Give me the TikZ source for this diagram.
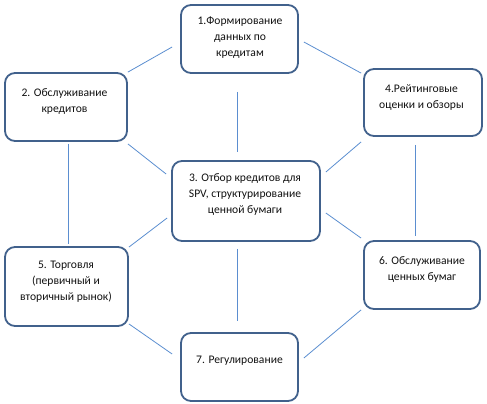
\documentclass[tikz,border=0pt]{standalone}
\usepackage{fontspec}
\setmainfont{Carlito}
\definecolor{boxc}{HTML}{41618C}
\definecolor{linec}{HTML}{5B8ED0}
\definecolor{txtc}{HTML}{111111}
\begin{document}
\begin{tikzpicture}[x=1pt,y=-1pt,
  box/.style={draw=boxc, line width=1.8pt, rounded corners=10pt, inner sep=0pt},
  txt/.style={align=center, text=txtc, font=\fontsize{11.6}{16}\selectfont, inner sep=0pt},
  conn/.style={draw=linec, line width=0.8pt}]
\useasboundingbox (0,0) rectangle (487,404);
% boxes
\node[box, minimum width=117pt, minimum height=68pt] (b1) at (239.5,39) {};
\node[box, minimum width=122pt, minimum height=68pt] (b2) at (66,107) {};
\node[box, minimum width=118pt, minimum height=67pt] (b4) at (423,102.5) {};
\node[box, minimum width=148pt, minimum height=80pt] (b3) at (246,201) {};
\node[box, minimum width=123pt, minimum height=79pt] (b5) at (66.5,286.5) {};
\node[box, minimum width=116pt, minimum height=68pt] (b6) at (422,275) {};
\node[box, minimum width=117pt, minimum height=68pt] (b7) at (239.5,367) {};
% texts
\node[txt] (t1) at (240,38) {1.Формирование\\данных по\\кредитам};
\node[txt] (t2) at (64.5,101.5) {2. Обслуживание\\кредитов};
\node[txt] (t4) at (421.5,97.5) {4.Рейтинговые\\оценки и обзоры};
\node[txt] (t3) at (245,195) {3. Отбор кредитов для\\SPV, структурирование\\ценной бумаги};
\node[txt] (t5) at (66,282) {5. Торговля\\(первичный и\\вторичный рынок)};
\node[txt] (t6) at (422,270) {6. Обслуживание\\ценных бумаг};
\node[txt] (t7) at (239.5,361) {7. Регулирование};
% connectors
\draw[conn] (b2.north east) -- ([shift={(-8,8)}]b1.west);
\draw[conn] ([shift={(5,3)}]b1.east) -- ([shift={(-2,5)}]b4.north west);
\draw[conn] ([shift={(-2.5,18)}]b1.south) -- ([shift={(-9,-8)}]b3.north);
\draw[conn] ([shift={(0,2)}]b2.south east) -- ([shift={(-5,-27)}]b3.west);
\draw[conn] ([shift={(2,2)}]b2.south) -- ([shift={(1.5,-2)}]b5.north);
\draw[conn] ([shift={(-2,5)}]b4.south west) -- ([shift={(5,-29)}]b3.east);
\draw[conn] ([shift={(-8,8)}]b4.south) -- ([shift={(-7,-4)}]b6.north);
\draw[conn] ([shift={(-4,17)}]b3.west) -- ([shift={(0,1)}]b5.north east);
\draw[conn] ([shift={(5,12)}]b3.east) -- ([shift={(-2,-2)}]b6.north west);
\draw[conn] ([shift={(-9,7)}]b3.south) -- ([shift={(-2.5,-11)}]b7.north);
\draw[conn] ([shift={(0,-3)}]b5.south east) -- ([shift={(-8,-13)}]b7.west);
\draw[conn] ([shift={(-2,0)}]b6.south west) -- ([shift={(5,-9)}]b7.east);
\end{tikzpicture}
\end{document}
